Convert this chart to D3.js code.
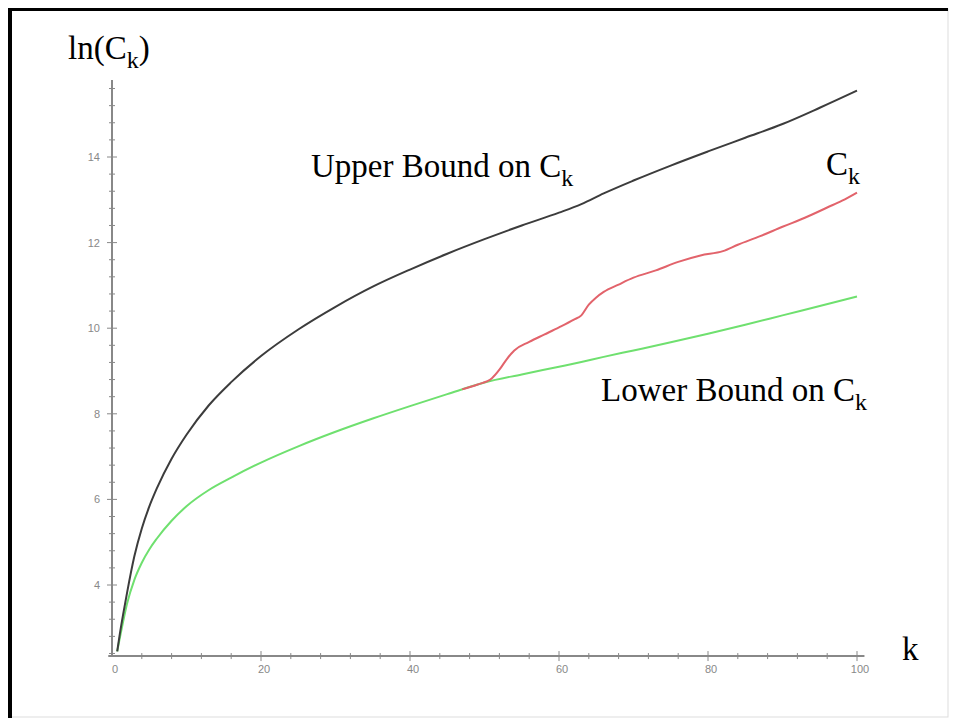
<!DOCTYPE html>
<html>
<head>
<meta charset="utf-8">
<script src="https://cdn.jsdelivr.net/npm/d3@7"></script>
<style>
    body { margin: 0; background: #fff; }
    svg { display: block; }
    .big-label { font-family: "Liberation Serif", "Times New Roman", serif; font-size: 33px; fill: #000; }
    .tick-label { font-family: "Liberation Sans", Arial, sans-serif; font-size: 11px; fill: #888; }
</style>
</head>
<body>
<svg id="chart" width="954" height="722"></svg>
<script>
// k values shared by both bounds
const kValues = [0.7, 1, 1.5, 2, 3, 4, 5, 6, 8, 10, 13, 16, 20, 25, 30, 35, 40, 45, 50, 55, 60, 63, 66, 70, 75, 80, 85, 90, 95, 100];
const upperBound = [2.45, 2.8, 3.32, 3.8, 4.67, 5.32, 5.83, 6.25, 6.95, 7.51, 8.2, 8.74, 9.35, 9.97, 10.5, 10.97, 11.37, 11.74, 12.08, 12.4, 12.7, 12.9, 13.15, 13.45, 13.8, 14.13, 14.45, 14.77, 15.15, 15.55];
const lowerBound = [2.45, 2.72, 3.15, 3.55, 4.12, 4.52, 4.83, 5.08, 5.5, 5.84, 6.22, 6.51, 6.86, 7.24, 7.58, 7.89, 8.18, 8.46, 8.73, 8.92, 9.1, 9.21, 9.33, 9.48, 9.67, 9.87, 10.08, 10.3, 10.52, 10.74];

// C_k only known from k = 47 on
const kC = [47, 49, 51, 52, 53, 54, 56, 58, 60, 62, 63, 64, 65, 66, 68, 70, 73, 76, 79, 82, 84, 87, 90, 93, 96, 98, 100];
const cValues = [8.57, 8.68, 8.83, 9.03, 9.28, 9.48, 9.68, 9.85, 10.02, 10.2, 10.3, 10.55, 10.72, 10.85, 11.02, 11.18, 11.35, 11.55, 11.7, 11.8, 11.95, 12.15, 12.37, 12.58, 12.82, 12.98, 13.17];

const xTicks = [0, 20, 40, 60, 80, 100];
const yTicks = [4, 6, 8, 10, 12, 14];

const svg = d3.select("#chart");

// Рамка
svg.append("rect")
    .attr("x", 9).attr("y", 9)
    .attr("width", 939).attr("height", 708)
    .attr("fill", "#fff")
    .attr("stroke", "#ddd").attr("stroke-width", 1);
svg.append("line")
    .attr("x1", 8).attr("y1", 9.5).attr("x2", 948).attr("y2", 9.5)
    .attr("stroke", "#000").attr("stroke-width", 3);
svg.append("line")
    .attr("x1", 10).attr("y1", 8).attr("x2", 10).attr("y2", 718)
    .attr("stroke", "#000").attr("stroke-width", 4);

// Scales
const x = d3.scaleLinear().domain([0, 100]).range([112, 857]);
const y = d3.scaleLinear().domain([4, 14]).range([585, 157]);
const yBottom = 2.34, yTop = 15.8;

const axisColor = "#888";

// x axis
svg.append("line")
    .attr("x1", x(-0.5)).attr("y1", y(yBottom))
    .attr("x2", x(101)).attr("y2", y(yBottom))
    .attr("stroke", axisColor).attr("stroke-width", 2);

for (let v = 4; v <= 100; v += 4) {
    const major = v % 20 === 0;
    svg.append("line")
        .attr("x1", x(v)).attr("x2", x(v))
        .attr("y1", y(yBottom) - (major ? 5 : 3))
        .attr("y2", y(yBottom) + (major ? 5 : 3))
        .attr("stroke", axisColor).attr("stroke-width", 1);
}

svg.selectAll(".x-tick")
    .data(xTicks)
    .enter().append("text")
    .attr("class", "tick-label")
    .attr("x", d => x(d) + 3)
    .attr("y", y(yBottom) + 17)
    .attr("text-anchor", "middle")
    .text(d => d);

// y axis
svg.append("line")
    .attr("x1", x(0)).attr("y1", y(yBottom))
    .attr("x2", x(0)).attr("y2", y(yTop))
    .attr("stroke", axisColor).attr("stroke-width", 2);

for (let i = 0; i <= 33; i++) {
    const v = 2.4 + i * 0.4;
    if (v > yTop) break;
    const major = Math.abs(v - Math.round(v)) < 1e-6 && Math.round(v) % 2 === 0;
    svg.append("line")
        .attr("x1", x(0) - (major ? 5 : 3))
        .attr("x2", x(0) + (major ? 5 : 3))
        .attr("y1", y(v)).attr("y2", y(v))
        .attr("stroke", axisColor).attr("stroke-width", 1);
}

svg.selectAll(".y-tick")
    .data(yTicks)
    .enter().append("text")
    .attr("class", "tick-label")
    .attr("x", x(0) - 12)
    .attr("y", d => y(d) + 4)
    .attr("text-anchor", "end")
    .text(d => d);

// Curves
const line = d3.line()
    .x(d => x(d[0]))
    .y(d => y(d[1]))
    .curve(d3.curveMonotoneX);

function drawCurve(ks, vals, color) {
    svg.append("path")
        .datum(ks.map((k, i) => [k, vals[i]]))
        .attr("d", line)
        .attr("fill", "none")
        .attr("stroke", color)
        .attr("stroke-width", 2);
}

drawCurve(kValues, lowerBound, "#6fe06f");
drawCurve(kValues, upperBound, "#3c3c3c");
drawCurve(kC, cValues, "#e2636b");

// Labels with subscript k
function subLabel(px, py, before, after) {
    const t = svg.append("text")
        .attr("class", "big-label")
        .attr("x", px).attr("y", py);
    t.append("tspan").text(before);
    t.append("tspan").attr("dy", 9).attr("font-size", 24).text("k");
    if (after) t.append("tspan").attr("dy", -9).text(after);
}

subLabel(68, 59, "ln(C", ")");
subLabel(311, 177, "Upper Bound on C", "");
subLabel(826, 175, "C", "");
subLabel(601, 401, "Lower Bound on C", "");

svg.append("text")
    .attr("class", "big-label")
    .attr("x", 902).attr("y", 660)
    .text("k");
</script>
</body>
</html>
